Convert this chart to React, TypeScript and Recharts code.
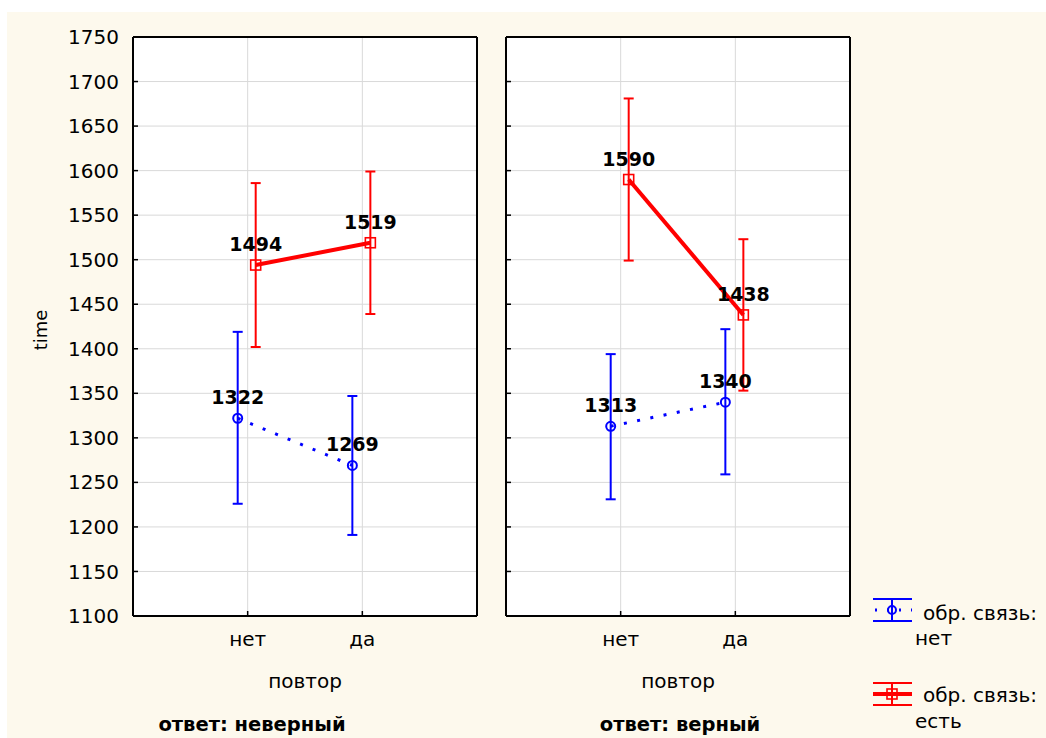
import { ComposedChart, Line, XAxis, YAxis, CartesianGrid, ErrorBar, LabelList } from 'recharts';

const categories = ['нет', 'да'];
const yTicks = [1100, 1150, 1200, 1250, 1300, 1350, 1400, 1450, 1500, 1550, 1600, 1650, 1700, 1750];

// ответ: неверный
const wrongNoFbMean = [1322, 1269];
const wrongNoFbLow = [1226, 1191];
const wrongNoFbHigh = [1419, 1347];
const wrongFbMean = [1494, 1519];
const wrongFbLow = [1402, 1439];
const wrongFbHigh = [1586, 1599];

// ответ: верный
const rightNoFbMean = [1313, 1340];
const rightNoFbLow = [1231, 1259];
const rightNoFbHigh = [1394, 1422];
const rightFbMean = [1590, 1438];
const rightFbLow = [1499, 1353];
const rightFbHigh = [1681, 1523];

const FONT = '"DejaVu Sans", Verdana, sans-serif';
const BLUE = '#0000ff';
const RED = '#ff0000';

const build = (mean: number[], low: number[], high: number[], shift: number) =>
  mean.map((v, i) => ({ x: i + 1 + shift, y: v, err: [v - low[i], high[i] - v] }));

const blank = () => '';

const CircleDot = (props: any) => {
  const { cx, cy } = props;
  if (cx == null || cy == null) return null;
  return <circle cx={cx} cy={cy} r={4.5} fill="none" stroke={BLUE} strokeWidth={2} />;
};

const SquareDot = (props: any) => {
  const { cx, cy } = props;
  if (cx == null || cy == null) return null;
  return <rect x={cx - 5} y={cy - 5} width={10} height={10} fill="none" stroke={RED} strokeWidth={1.6} />;
};

interface PanelProps {
  left: number;
  width: number;
  marginLeft: number;
  showYLabels: boolean;
  blue: Array<{ x: number; y: number; err: number[] }>;
  red: Array<{ x: number; y: number; err: number[] }>;
}

const Panel = ({ left, width, marginLeft, showYLabels, blue, red }: PanelProps) => {
  const axisLine = { stroke: '#000', strokeWidth: 2 };
  const tickLine = { stroke: '#000', strokeWidth: 1.5 };
  const tickStyle = { fill: '#000', fontSize: 20, fontFamily: FONT };
  const labelStyle = { fontSize: 19, fontWeight: 'bold', fill: '#000', fontFamily: FONT };
  return (
    <div style={{ position: 'absolute', left, top: 0 }}>
      <ComposedChart width={width} height={738} margin={{ top: 27, right: 5, bottom: 92, left: marginLeft }}>
        <CartesianGrid stroke="#d9d9d9" strokeWidth={1} fill="#ffffff" />
        <XAxis
          type="number"
          dataKey="x"
          domain={[0, 3]}
          ticks={[1, 2]}
          allowDataOverflow
          tickFormatter={(v: number) => categories[v - 1] ?? ''}
          height={30}
          axisLine={axisLine}
          tickLine={tickLine}
          tickSize={-5}
          tickMargin={21}
          tick={tickStyle}
        />
        <XAxis
          xAxisId="top"
          orientation="top"
          type="number"
          dataKey="x"
          domain={[0, 3]}
          ticks={[1, 2]}
          height={10}
          axisLine={axisLine}
          tickLine={tickLine}
          tickSize={-5}
          tickFormatter={blank}
          tick={tickStyle}
        />
        <YAxis
          type="number"
          domain={[1100, 1750]}
          ticks={yTicks}
          width={70}
          axisLine={axisLine}
          tickLine={tickLine}
          tickSize={-5}
          tickMargin={19}
          tickFormatter={showYLabels ? undefined : blank}
          tick={tickStyle}
        />
        <YAxis
          yAxisId="r"
          orientation="right"
          type="number"
          domain={[1100, 1750]}
          ticks={yTicks}
          width={8}
          axisLine={axisLine}
          tickLine={tickLine}
          tickSize={-5}
          tickFormatter={blank}
          tick={tickStyle}
        />
        <Line
          data={blue}
          dataKey="y"
          stroke={BLUE}
          strokeWidth={3}
          strokeDasharray="3 10.5"
          dot={<CircleDot />}
          activeDot={false}
          isAnimationActive={false}
        >
          <ErrorBar dataKey="err" direction="y" width={5} stroke={BLUE} strokeWidth={2} isAnimationActive={false} />
          <LabelList dataKey="y" position="top" offset={14} style={labelStyle} />
        </Line>
        <Line
          data={red}
          dataKey="y"
          stroke={RED}
          strokeWidth={4}
          dot={<SquareDot />}
          activeDot={false}
          isAnimationActive={false}
        >
          <ErrorBar dataKey="err" direction="y" width={5} stroke={RED} strokeWidth={2} isAnimationActive={false} />
          <LabelList dataKey="y" position="top" offset={14} style={labelStyle} />
        </Line>
      </ComposedChart>
    </div>
  );
};

const LegendIcon = ({ y, color, solid }: { y: number; color: string; solid: boolean }) => (
  <g stroke={color}>
    <line x1={873} y1={y - 11} x2={912} y2={y - 11} strokeWidth={2} />
    <line x1={873} y1={y + 11} x2={912} y2={y + 11} strokeWidth={2} />
    <line x1={892} y1={y - 11} x2={892} y2={y + 11} strokeWidth={2} />
    {solid ? (
      <>
        <line x1={873} y1={y} x2={912} y2={y} strokeWidth={4} />
        <rect x={887} y={y - 5} width={10} height={10} fill="none" strokeWidth={1.6} />
      </>
    ) : (
      <>
        <line x1={873} y1={y} x2={912} y2={y} strokeWidth={3} strokeDasharray="2 10" strokeDashoffset={-2} />
        <circle cx={892} cy={y} r={4} fill="none" strokeWidth={2} />
      </>
    )}
  </g>
);

export default function App() {
  const shiftBlue = -0.087;
  const shiftRed = 0.07;
  return (
    <div style={{ position: 'absolute', left: 0, top: 0, width: 1046, height: 738, background: '#ffffff', overflow: 'hidden' }}>
      <div style={{ position: 'absolute', left: 7, top: 12, width: 1039, height: 726, background: '#fdf9ed' }} />
      <Panel
        left={0}
        width={490}
        marginLeft={63}
        showYLabels
        blue={build(wrongNoFbMean, wrongNoFbLow, wrongNoFbHigh, shiftBlue)}
        red={build(wrongFbMean, wrongFbLow, wrongFbHigh, shiftRed)}
      />
      <Panel
        left={440}
        width={423}
        marginLeft={-4}
        showYLabels={false}
        blue={build(rightNoFbMean, rightNoFbLow, rightNoFbHigh, shiftBlue)}
        red={build(rightFbMean, rightFbLow, rightFbHigh, shiftRed)}
      />
      <svg width={1046} height={738} style={{ position: 'absolute', left: 0, top: 0, pointerEvents: 'none' }} fontFamily={FONT}>
        <text x={47} y={330} fontSize={18} textAnchor="middle" transform="rotate(-90 47 330)" fill="#000">time</text>
        <text x={305} y={688} fontSize={20} textAnchor="middle" fill="#000">повтор</text>
        <text x={678} y={688} fontSize={20} textAnchor="middle" fill="#000">повтор</text>
        <text x={252} y={731} fontSize={19.5} fontWeight="bold" textAnchor="middle" fill="#000">ответ: неверный</text>
        <text x={680} y={731} fontSize={19.5} fontWeight="bold" textAnchor="middle" fill="#000">ответ: верный</text>
        <LegendIcon y={610} color={BLUE} solid={false} />
        <text x={923} y={620} fontSize={20} fill="#000">обр. связь:</text>
        <text x={915} y={645} fontSize={20} fill="#000">нет</text>
        <LegendIcon y={694} color={RED} solid />
        <text x={923} y={702} fontSize={20} fill="#000">обр. связь:</text>
        <text x={915} y={728} fontSize={20} fill="#000">есть</text>
      </svg>
    </div>
  );
}
